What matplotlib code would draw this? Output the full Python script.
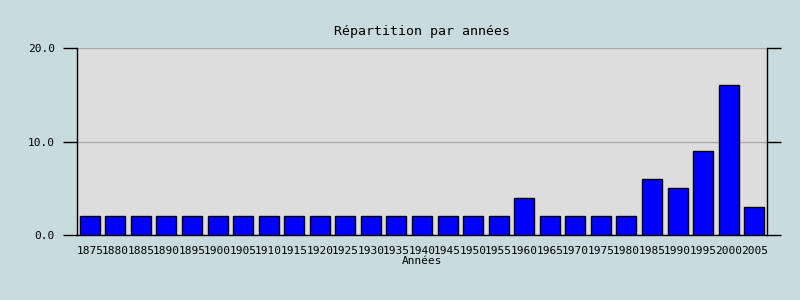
import matplotlib
matplotlib.use("Agg")
import matplotlib.pyplot as plt
import numpy as np

# years and counts
years = ["1875", "1880", "1885", "1890", "1895", "1900", "1905", "1910", "1915",
         "1920", "1925", "1930", "1935", "1940", "1945", "1950", "1955", "1960",
         "1965", "1970", "1975", "1980", "1985", "1990", "1995", "2000", "2005"]
counts = [2, 2, 2, 2, 2, 2, 2, 2, 2,
          2, 2, 2, 2, 2, 2, 2, 2, 4,
          2, 2, 2, 2, 6, 5, 9, 16, 3]
yticks = [0.0, 10.0, 20.0]

plt.rcParams['font.family'] = ['DejaVu Sans Mono']

fig = plt.figure(figsize=(8, 3), dpi=100, facecolor="#c8dcdf")
ax = fig.add_axes([77/800, 65/300, 690/800, 187/300])
ax.set_facecolor("#dddddd")

x = np.arange(len(years))
ax.bar(x, counts, width=0.78, color="#0000ff", edgecolor="black", linewidth=1, zorder=3)

ax.set_xlim(-0.5, len(years) - 0.5)
ax.set_ylim(0, 20)
ax.set_yticks(yticks)
ax.set_yticklabels([f"{v:.1f}" for v in yticks], fontsize=8)
ax.set_xticks(x)
ax.set_xticklabels(years, fontsize=8)
ax.tick_params(axis="x", length=0, pad=8)
ax.tick_params(axis="y", length=10, width=1, direction="out", right=True, pad=6)
ax.yaxis.grid(True, color="#aaaaaa", linewidth=1, zorder=0)

ax.spines["top"].set_visible(False)
ax.spines["left"].set_linewidth(1)
ax.spines["right"].set_linewidth(1)
ax.spines["bottom"].set_linewidth(1)

ax.set_title("Répartition par années", fontsize=9.5, pad=9)
ax.set_xlabel("Années", fontsize=8, labelpad=0)

fig.savefig("out.png", dpi=100, facecolor=fig.get_facecolor())
